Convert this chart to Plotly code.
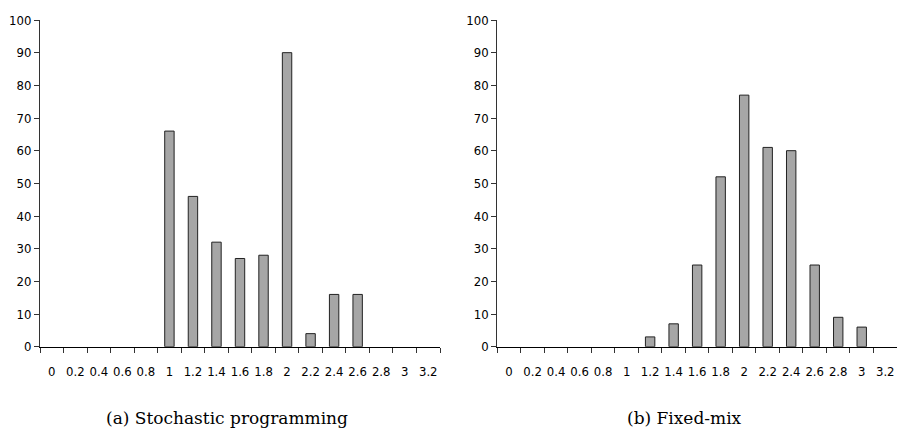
import plotly.graph_objects as go
from plotly.subplots import make_subplots

categories = ["0", "0.2", "0.4", "0.6", "0.8", "1", "1.2", "1.4", "1.6", "1.8",
              "2", "2.2", "2.4", "2.6", "2.8", "3", "3.2"]
stochastic = [0, 0, 0, 0, 0, 66, 46, 32, 27, 28, 90, 4, 16, 16, 0, 0, 0]
fixed_mix = [0, 0, 0, 0, 0, 0, 3, 7, 25, 52, 77, 61, 60, 25, 9, 6, 0]
y_ticks = [0, 10, 20, 30, 40, 50, 60, 70, 80, 90, 100]
captions = ["(a) Stochastic programming", "(b) Fixed-mix"]

W, H = 897, 431
fig = make_subplots(rows=1, cols=2)


def bar(vals):
    return go.Bar(
        x=categories, y=vals, width=0.4, showlegend=False, hoverinfo="x+y",
        marker=dict(color="#a6a6a6",
                    line=dict(color="#222222", width=[1 if v > 0 else 0 for v in vals])),
    )


fig.add_trace(bar(stochastic), row=1, col=1)
fig.add_trace(bar(fixed_mix), row=1, col=2)

tick_font = dict(family="DejaVu Sans Condensed, Liberation Sans Narrow, sans-serif",
                 size=13, color="black")

x_doms = [[40 / W, 440 / W], [497.3 / W, 1.0]]
y_dom = [(H - 346.7) / H, (H - 20) / H]

for i, xd in enumerate(x_doms, start=1):
    xa = "xaxis" if i == 1 else f"xaxis{i}"
    ya = "yaxis" if i == 1 else f"yaxis{i}"
    fig.layout[xa].update(
        domain=xd, type="category", range=[-0.5, 16.5], tickson="boundaries",
        ticks="outside", ticklen=5, tickcolor="#333", tickwidth=1,
        showline=True, linecolor="black", linewidth=1.2, showgrid=False,
        zeroline=False, tickfont=tick_font, ticklabelstandoff=13, tickangle=0,
        automargin=False,
    )
    fig.layout[ya].update(
        domain=y_dom, range=[0, 100], tickmode="array", tickvals=y_ticks,
        ticks="outside", ticklen=5, tickcolor="#333", tickwidth=1,
        showline=True, linecolor="#333", linewidth=1, showgrid=False,
        zeroline=False, tickfont=tick_font, automargin=False,
    )

cap_x = [227 / W, 684 / W]
for cx, txt in zip(cap_x, captions):
    fig.add_annotation(x=cx, y=(H - 418) / H, xref="paper", yref="paper",
                       text=txt, showarrow=False, xanchor="center", yanchor="middle",
                       font=dict(family="DejaVu Serif, Liberation Serif, serif", size=17, color="black"))

fig.update_layout(width=W, height=H, margin=dict(l=0, r=0, t=0, b=0), template="none",
                  paper_bgcolor="white", plot_bgcolor="white")

fig.write_html("out.html")
